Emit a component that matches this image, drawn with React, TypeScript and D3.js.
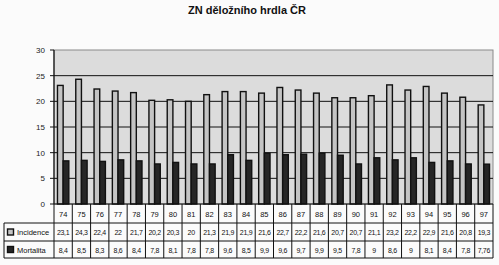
import React from "react";
import * as d3 from "d3";

const years = ["74","75","76","77","78","79","80","81","82","83","84","85","86","87","88","89","90","91","92","93","94","95","96","97"];
const incidence = [23.1,24.3,22.4,22,21.7,20.2,20.3,20,21.3,21.9,21.9,21.6,22.7,22.2,21.6,20.7,20.7,21.1,23.2,22.2,22.9,21.6,20.8,19.3];
const mortality = [8.4,8.5,8.3,8.6,8.4,7.8,8.1,7.8,7.8,9.6,8.5,9.9,9.6,9.7,9.9,9.5,7.8,9,8.6,9,8.1,8.4,7.8,7.76];
const yTicks = [0,5,10,15,20,25,30];
const seriesNames = ["Incidence", "Mortalita"];

const W = 499, H = 265;
const left = 54, right = 493, top = 50, bottom = 204;
const rowY = [204, 223, 241, 258];
const font = "'Liberation Sans', Arial, sans-serif";

const fmt = (v: number) => String(v).replace(".", ",");

export default function App() {
  const x = d3.scaleBand<string>().domain(years).range([left, right]).paddingInner(0).paddingOuter(0);
  const y = d3.scaleLinear().domain([0, 30]).range([bottom, top]);
  const bw = x.bandwidth() * 0.31;
  const fills = ["#c4c4c4", "#262626"];
  const rows = [incidence, mortality];

  return (
    <svg width={W} height={H} style={{ position: "absolute", left: 0, top: 0, background: "#fbfbfb" }} fontFamily={font}>
      <text x={247} y={14} textAnchor="middle" fontSize={11} fontWeight="bold" fill="#111">ZN děložního hrdla ČR</text>

      {/* plot area */}
      <rect x={left} y={top} width={right - left} height={bottom - top} fill="#dcdcdc" stroke="#8a8a8a" strokeWidth={1} />
      {yTicks.filter(t => t > 0 && t < 30).map(t => (
        <line key={t} x1={left} x2={right} y1={y(t)} y2={y(t)} stroke="#111" strokeWidth={1} />
      ))}

      {years.map((yr, i) => {
        const c = (x(yr) as number) + x.bandwidth() / 2;
        return (
          <g key={yr}>
            <rect x={c - bw} y={y(incidence[i])} width={bw} height={bottom - y(incidence[i])} fill={fills[0]} stroke="#111" strokeWidth={1.4} />
            <rect x={c} y={y(mortality[i])} width={bw} height={bottom - y(mortality[i])} fill={fills[1]} stroke="#111" strokeWidth={1.4} />
          </g>
        );
      })}

      {/* y axis */}
      <line x1={left} x2={left} y1={top} y2={bottom} stroke="#111" strokeWidth={1.2} />
      {yTicks.map(t => (
        <g key={t}>
          <line x1={left - 4} x2={left} y1={y(t)} y2={y(t)} stroke="#111" />
          <text x={left - 9} y={y(t) + 3} textAnchor="end" fontSize={8} fill="#222">{t}</text>
        </g>
      ))}

      {/* data table */}
      <g stroke="#111" strokeWidth={1} fill="none">
        <line x1={left} x2={right} y1={rowY[0]} y2={rowY[0]} />
        <line x1={4} x2={right} y1={rowY[1]} y2={rowY[1]} />
        <line x1={4} x2={right} y1={rowY[2]} y2={rowY[2]} />
        <line x1={4} x2={right} y1={rowY[3]} y2={rowY[3]} />
        <line x1={4} x2={4} y1={rowY[1]} y2={rowY[3]} />
        {years.map(yr => (
          <line key={yr} x1={x(yr) as number} x2={x(yr) as number} y1={rowY[0]} y2={rowY[3]} />
        ))}
        <line x1={right} x2={right} y1={rowY[0]} y2={rowY[3]} />
      </g>
      {years.map(yr => (
        <text key={yr} x={(x(yr) as number) + x.bandwidth() / 2} y={216.5} textAnchor="middle" fontSize={7.5} fill="#111">{yr}</text>
      ))}
      {rows.map((vals, r) => (
        <g key={r}>
          <rect x={7.5} y={(rowY[r + 1] + rowY[r + 2]) / 2 - 3} width={6} height={6} fill={fills[r]} stroke="#111" strokeWidth={1.4} />
          <text x={17} y={(rowY[r + 1] + rowY[r + 2]) / 2 + 3} fontSize={7.5} fill="#111">{seriesNames[r]}</text>
          {vals.map((v, i) => (
            <text key={i} x={(x(years[i]) as number) + x.bandwidth() / 2} y={(rowY[r + 1] + rowY[r + 2]) / 2 + 3} textAnchor="middle" fontSize={7} letterSpacing={-0.3} fill="#111">{fmt(v)}</text>
          ))}
        </g>
      ))}
    </svg>
  );
}
